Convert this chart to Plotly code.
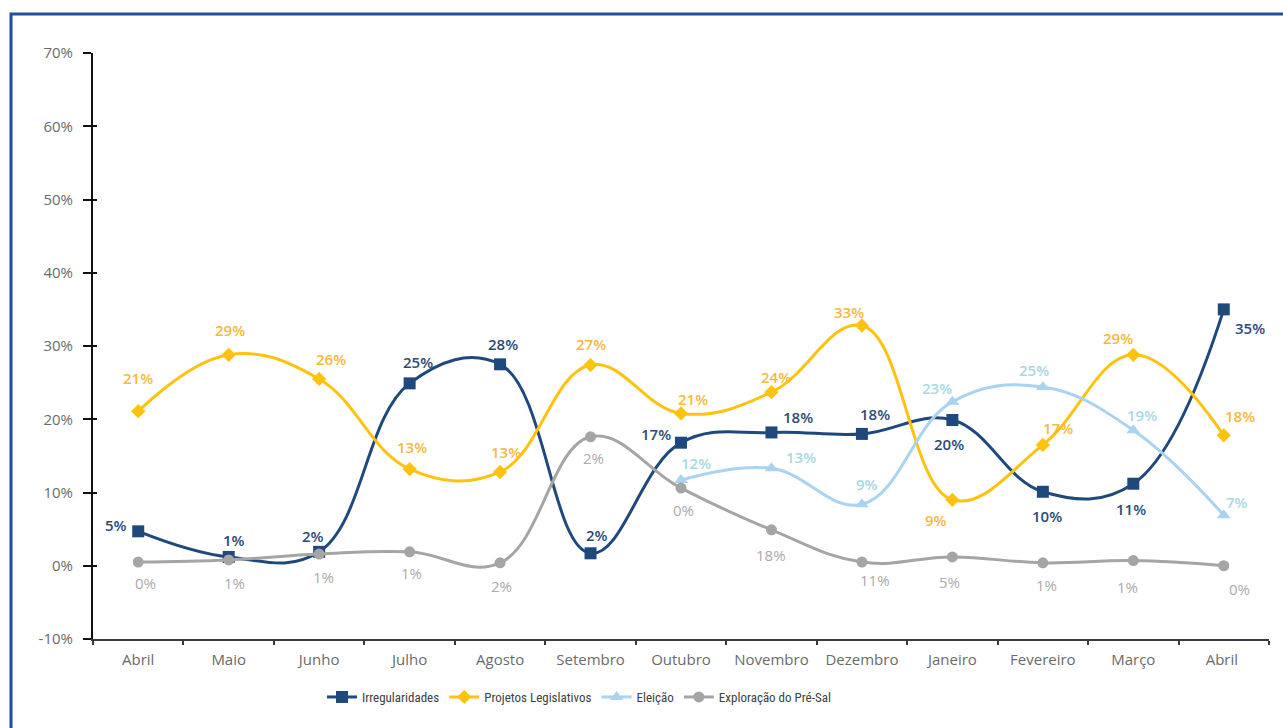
import plotly.graph_objects as go

months = ["Abril", "Maio", "Junho", "Julho", "Agosto", "Setembro", "Outubro",
          "Novembro", "Dezembro", "Janeiro", "Fevereiro", "Março", "Abril "]

irregularidades = [4.7, 1.2, 1.9, 24.9, 27.5, 1.7, 16.8, 18.2, 18.0, 19.9, 10.1, 11.2, 35.0]
irreg_labels = ["5%", "1%", "2%", "25%", "28%", "2%", "17%", "18%", "18%", "20%", "10%", "11%", "35%"]

projetos = [21.1, 28.8, 25.5, 13.2, 12.8, 27.4, 20.8, 23.7, 32.8, 9.0, 16.5, 28.8, 17.8]
proj_labels = ["21%", "29%", "26%", "13%", "13%", "27%", "21%", "24%", "33%", "9%", "17%", "29%", "18%"]

eleicao = [None, None, None, None, None, None, 11.7, 13.3, 8.4, 22.4, 24.4, 18.5, 6.9]
eleicao_labels = [None, None, None, None, None, None, "12%", "13%", "9%", "23%", "25%", "19%", "7%"]

presal = [0.5, 0.8, 1.6, 1.9, 0.4, 17.6, 10.6, 4.9, 0.5, 1.2, 0.4, 0.7, 0.0]
presal_labels = ["0%", "1%", "1%", "1%", "2%", "2%", "0%", "18%", "11%", "5%", "1%", "1%", "0%"]

y_tickvals = [-10, 0, 10, 20, 30, 40, 50, 60, 70]
y_ticktext = ["-10%", "0%", "10%", "20%", "30%", "40%", "50%", "60%", "70%"]

title_text = "Evolução dos temas presentes por mês"

# label offsets in pixels (style only)
irreg_off = [(-22, 6), (5, 17), (-6, 16), (8, 21), (3, 20), (6, 18), (-25, 9), (27, 15),
             (13, 20), (-3, -24), (4, -24), (-2, -25), (26, -19)]
proj_off = [(0, 33), (1, 25), (12, 20), (2, 22), (6, 20), (0, 21), (12, 14), (5, 15),
            (-13, 13), (-16, -20), (15, 17), (-15, 17), (16, 19)]
eleicao_off = [None] * 6 + [(15, 17), (30, 11), (5, 20), (-15, 14), (-9, 17), (9, 15), (13, 13)]
presal_off = [(7, -21), (6, -23), (4, -23), (2, -21), (1, -23), (3, -21), (2, -22), (0, -25),
              (13, -18), (-3, -25), (4, -22), (-6, -26), (16, -23)]

C_IRR = "#1F497D"
C_PROJ = "#FFC20E"
C_ELE = "#A9D3EE"
C_SAL = "#A5A5A5"

fig = go.Figure()

series = [
    ("Irregularidades", irregularidades, C_IRR, "square", 12),
    ("Projetos Legislativos", projetos, C_PROJ, "diamond", 11),
    ("Eleição", eleicao, C_ELE, "triangle-up", 12),
    ("Exploração do Pré-Sal", presal, C_SAL, "circle", 11),
]
for name, vals, col, sym, sz in series:
    fig.add_trace(go.Scatter(
        x=months, y=vals, name=name, mode="lines+markers",
        line=dict(color=col, width=3, shape="spline", smoothing=1.15),
        marker=dict(symbol=sym, size=sz, color=col),
        connectgaps=False,
    ))

# dummy trace on overlay axis to show inner tick marks
fig.add_trace(go.Scatter(x=[months[0]], y=[None], yaxis="y2", showlegend=False, hoverinfo="skip"))

annotations = []
label_sets = [
    (irregularidades, irreg_labels, irreg_off, "#2B4A78", 600),
    (projetos, proj_labels, proj_off, "#F6B93B", 600),
    (eleicao, eleicao_labels, eleicao_off, "#A8D8E2", 600),
    (presal, presal_labels, presal_off, "#ABABAB", 500),
]
for vals, labs, offs, col, wt in label_sets:
    for m, v, t, o in zip(months, vals, labs, offs):
        if v is None:
            continue
        annotations.append(dict(
            x=m, y=v, text=t, showarrow=False, xshift=o[0], yshift=o[1],
            font=dict(family="Open Sans", size=15, color=col, weight=wt),
        ))

# title above the frame, cut off at the top edge as in the source
annotations.append(dict(
    xref="paper", yref="paper", x=(202 - 93) / 1176, y=(639 - 3) / 586,
    xanchor="left", yanchor="bottom", text=title_text,
    showarrow=False, font=dict(family="Open Sans", size=15, color="#1F4E9A", weight=700),
))

fig.update_layout(
    width=1283, height=728,
    margin=dict(l=93, r=14, t=53, b=89),
    paper_bgcolor="white", plot_bgcolor="white",
    showlegend=True,
    legend=dict(orientation="h", x=(322 - 93) / 1176, xanchor="left", y=-0.099, yanchor="middle",
                font=dict(family="Liberation Sans Narrow, Roboto Condensed, Roboto", size=13,
                          color="#404040"),
                itemwidth=30, tracegroupgap=0),
    xaxis=dict(
        type="category", range=[-0.5, 12.5], showgrid=False, zeroline=False,
        showline=True, linecolor="#3A3A3A", linewidth=2,
        ticks="outside", tickson="boundaries", ticklen=4, tickwidth=2, tickcolor="#3A3A3A",
        tickfont=dict(family="Open Sans", size=15, color="#6B6B6B"),
        ticklabelstandoff=6, automargin=False,
    ),
    yaxis=dict(
        range=[-10, 70], showgrid=False, zeroline=False,
        showline=True, linecolor="#111111", linewidth=2,
        tickvals=y_tickvals, ticktext=y_ticktext,
        ticks="outside", ticklen=8, tickwidth=2, tickcolor="#111111",
        tickfont=dict(family="Open Sans", size=15, color="#6B6B6B"),
        ticklabelstandoff=7, automargin=False,
    ),
    yaxis2=dict(
        range=[-10, 70], overlaying="y", side="left", showgrid=False, zeroline=False,
        showline=False, tickvals=y_tickvals, showticklabels=False,
        ticks="inside", ticklen=4, tickwidth=2, tickcolor="#111111",
    ),
    annotations=annotations,
    shapes=[dict(
        type="rect", xref="paper", yref="paper",
        x0=(11 - 93) / 1176, x1=1.3, y0=-0.5, y1=(639 - 14) / 586,
        line=dict(color="#1F4E9A", width=3), fillcolor="rgba(0,0,0,0)", layer="below",
    )],
)

fig.write_html("out.html", config={"displayModeBar": False},
               post_script="document.body.style.margin='0px';")
